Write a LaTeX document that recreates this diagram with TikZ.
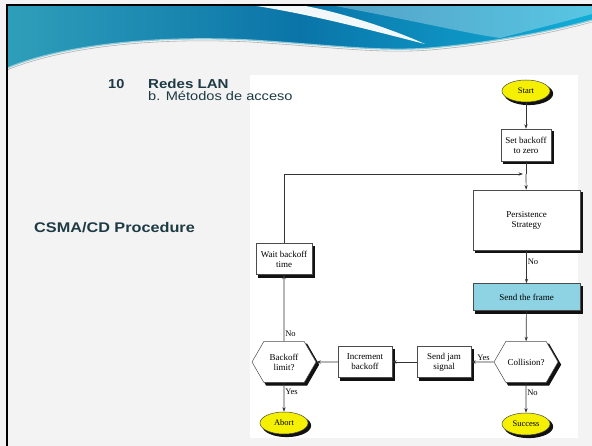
\documentclass[tikz,border=0pt]{standalone}
\usepackage{fontspec}
\setmainfont{Liberation Sans}
\newfontfamily\flowfont{Liberation Serif}
\usetikzlibrary{shapes.geometric,shapes.symbols,arrows.meta}

\definecolor{slidebg}{HTML}{F3F3F3}
\definecolor{headtext}{HTML}{1E3A44}
\definecolor{bandA}{HTML}{2E9FBA}
\definecolor{bandB}{HTML}{0A74A8}
\definecolor{bandC}{HTML}{10AED8}
\definecolor{framefill}{HTML}{8DD3E4}
\definecolor{termfill}{HTML}{F5F000}
\definecolor{wire}{HTML}{333333}
\definecolor{shadowcol}{HTML}{111111}

\tikzset{
  x=1pt, y=-1pt,
  flowbox/.style={draw=black!70, line width=0.5pt, fill=white,
    rectangle, align=center, font=\flowfont\fontsize{9}{10}\selectfont, inner sep=1pt},
  framebox/.style={flowbox, fill=framefill},
  terminal/.style={draw=black!70, line width=0.5pt, fill=termfill, ellipse,
    minimum width=48pt, minimum height=22pt, inner sep=0pt,
    font=\flowfont\fontsize{8.5}{9}\selectfont},
  decision/.style={draw=black!70, line width=0.5pt, fill=white,
    signal, signal to=west and east, signal pointer angle=120,
    minimum width=64pt, minimum height=41pt, inner sep=0pt, align=center,
    font=\flowfont\fontsize{9}{10}\selectfont},
  ghost/.style={fill=shadowcol, draw=shadowcol, line width=1pt},
  arr/.style={draw=wire, line width=0.7pt, -{Stealth[length=4.5pt,width=3.2pt]}},
  lbl/.style={font=\flowfont\fontsize{8.5}{9}\selectfont, inner sep=1pt},
  headline/.style={anchor=base west, text=headtext, inner sep=0pt},
}

% a flowchart node drawn over its dark offset shadow
% #1 style, #2 name, #3 x, #4 y, #5 text
\newcommand\flownode[5]{%
  \node[#1, ghost] (#2-shadow) at (#3+2.6,#4+2.6) {};
  \node[#1] (#2) at (#3,#4) {#5};}

\begin{document}
\begin{tikzpicture}
\useasboundingbox (0,0) rectangle (592,446);

% slide background and content area
\fill[slidebg] (0,0) rectangle (592,446);
\fill[white] (250,75) rectangle (578,438);

% header wave band
\shade[left color=bandA, right color=bandC, middle color=bandB]
  (7,5) -- (592,5) -- (592,20)
  .. controls (560,29) and (500,42) .. (430,48)
  .. controls (380,52) and (330,45) .. (250,40)
  .. controls (150,35) and (60,46) .. (7,68) -- cycle;
\fill[white, opacity=0.95]
  (250,5) .. controls (310,14) and (370,30) .. (425,44)
  .. controls (380,24) and (330,10) .. (300,5) -- cycle;
\fill[white, opacity=0.3]
  (330,5) .. controls (420,22) and (470,34) .. (500,38)
  .. controls (540,28) and (570,20) .. (592,14) -- (592,5) -- cycle;
\draw[bandA!55!white, line width=1.2pt]
  (7,68) .. controls (60,46) and (150,35) .. (250,40)
  .. controls (330,45) and (380,52) .. (430,48)
  .. controls (500,42) and (560,29) .. (592,20);
\draw[black!30, line width=0.6pt]
  (7,70) .. controls (60,48) and (150,37) .. (250,42)
  .. controls (330,47) and (380,54) .. (430,50)
  .. controls (500,44) and (560,31) .. (592,22);
\draw[black, line width=2.5pt] (7,446) -- (7,5) -- (592,5);

% header texts
\node[headline, font=\bfseries\fontsize{13}{14}\selectfont] (num) at (108,89) {\scalebox{1.12}[1]{10}};
\node[headline, font=\bfseries\fontsize{13}{14}\selectfont] (title) at (148,89) {\scalebox{1.16}[1]{Redes LAN}};
\node[headline, font=\fontsize{12.5}{14}\selectfont] (sub) at (148,100.5) {\scalebox{1.17}[1]{b. Métodos de acceso}};
\node[headline, font=\bfseries\fontsize{14}{16}\selectfont] (proc) at (34,233) {\scalebox{1.16}[1]{CSMA/CD Procedure}};

% flowchart nodes
\flownode{terminal}{start}{526}{91}{Start}
\flownode{flowbox, minimum width=50pt, minimum height=32pt}{zero}{526}{145}{Set backoff\\to zero}
\coordinate (join) at (526,174);
\flownode{flowbox, minimum width=107pt, minimum height=60pt}{persist}{526.5}{220}{Persistence\\Strategy}
\flownode{framebox, minimum width=107pt, minimum height=27pt}{send}{526.5}{297}{Send the frame}
\flownode{decision}{coll}{526}{362}{Collision?}
\flownode{terminal}{succ}{526}{424}{Success}
\flownode{flowbox, minimum width=54pt, minimum height=31pt}{jam}{444}{362}{Send jam\\signal}
\flownode{flowbox, minimum width=54pt, minimum height=31pt}{incr}{365}{362}{Increment\\backoff}
\flownode{decision}{limit}{284}{362}{Backoff\\limit?}
\flownode{terminal}{abort}{284}{423}{Abort}
\flownode{flowbox, minimum width=56pt, minimum height=31pt}{wait}{284}{259}{Wait backoff\\time}

% connectors
\draw[arr] (start) -- (zero);
\draw[draw=wire, line width=0.7pt] (zero) -- (join);
\draw[arr] (join) -- (persist);
\draw[arr] (persist) -- node[lbl, right, pos=0.35] {No} (send);
\draw[arr] (send) -- (coll);
\draw[arr] (coll) -- node[lbl, above, pos=0.45] {Yes} (jam);
\draw[arr] (coll) -- node[lbl, right, pos=0.35] {No} (succ);
\draw[arr] (jam) -- (incr);
\draw[arr] (incr) -- (limit);
\draw[arr] (limit) -- node[lbl, right, pos=0.3] {Yes} (abort);
\draw[arr] (limit) -- node[lbl, right, pos=0.12] {No} (wait);
\draw[arr, shorten >=3pt] (wait.north) |- (join);
\end{tikzpicture}
\end{document}
